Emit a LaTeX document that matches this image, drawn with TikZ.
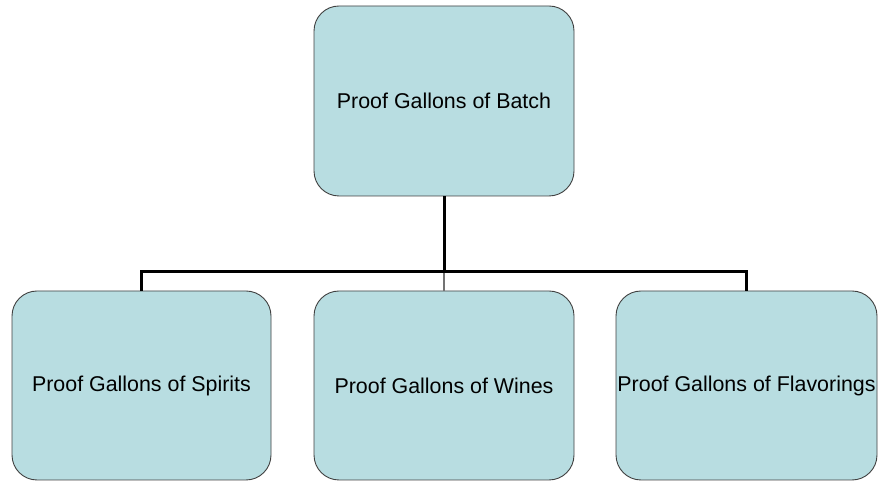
\documentclass[tikz,border=0pt]{standalone}
\usepackage{fontspec}
\setmainfont{Liberation Sans}
\begin{document}
\begin{tikzpicture}[x=1pt,y=1pt,
  boxstyle/.style={draw=black!75, line width=0.9pt, fill=boxfill, rounded corners=25pt,
    minimum width=260pt, minimum height=190pt, inner sep=0pt, align=center,
    font=\fontsize{21.4}{25}\selectfont},
  conn/.style={draw=black, line width=3pt},
  thinconn/.style={draw=black!55, line width=1.2pt}]
\definecolor{boxfill}{HTML}{B8DDE1}
\useasboundingbox (0,0) rectangle (880,481);
\node[boxstyle] (top) at (444,380) {Proof Gallons of Batch};
\node[boxstyle, minimum width=259pt, minimum height=189pt] (left) at (141.5,95.5) {Proof Gallons of Spirits};
\node[boxstyle, minimum height=189pt] (mid) at (444,95.5) {Proof Gallons of Wines};
\node[boxstyle, minimum width=261pt, minimum height=189pt] (right) at (746.5,95.5) {Proof Gallons of Flavorings};
\coordinate (bus) at (444,209);
\draw[thinconn] (mid.north) -- (bus);
\draw[conn] (top.south) -- (bus);
\draw[conn] (left.north) |- (bus) -| (right.north);
\end{tikzpicture}
\end{document}
